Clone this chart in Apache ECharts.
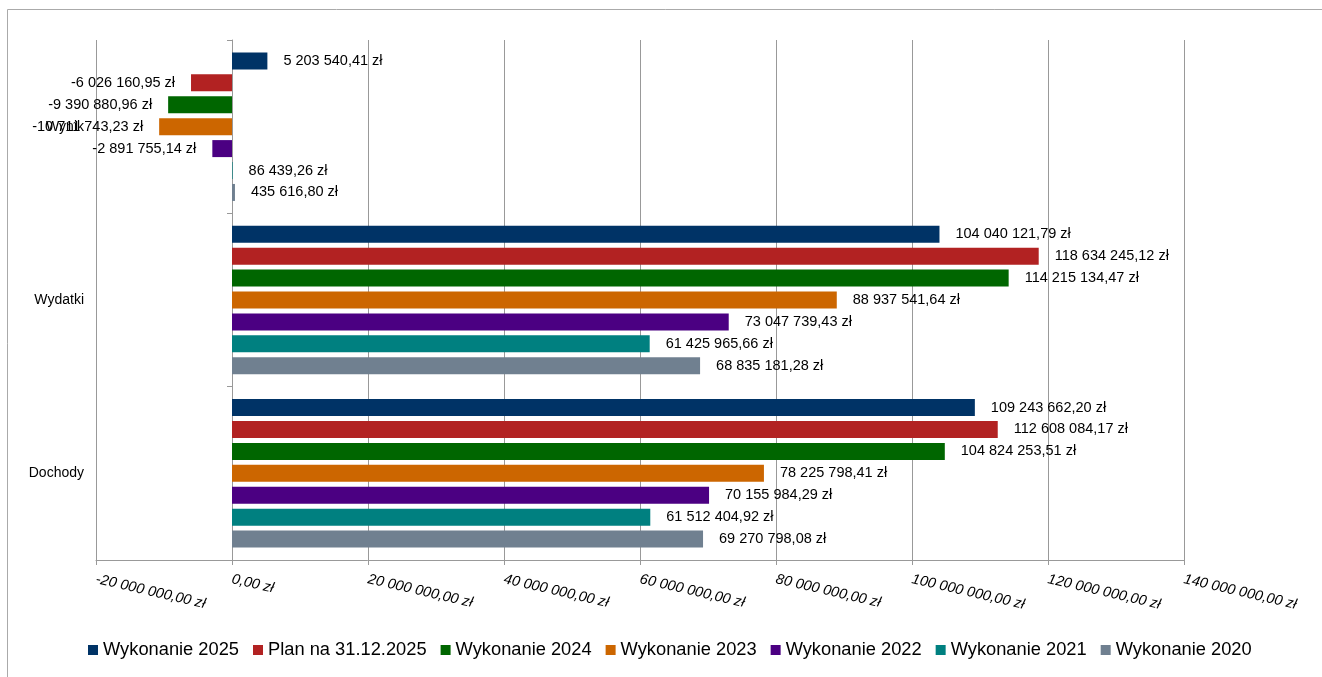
<!DOCTYPE html>
<html>
<head>
<meta charset="utf-8">
<script src="https://cdn.jsdelivr.net/npm/echarts@6/dist/echarts.min.js"></script>
<style>
html,body{margin:0;padding:0;background:#fff;}
#chart{width:1322px;height:677px;}
</style>
</head>
<body>
<div id="chart"></div>
<script>
const categories = ['Wynik', 'Wydatki', 'Dochody'];
const seriesNames = ['Wykonanie 2025', 'Plan na 31.12.2025', 'Wykonanie 2024', 'Wykonanie 2023', 'Wykonanie 2022', 'Wykonanie 2021', 'Wykonanie 2020'];
const wykonanie2025 = [5203540.41, 104040121.79, 109243662.20];
const plan2025 = [-6026160.95, 118634245.12, 112608084.17];
const wykonanie2024 = [-9390880.96, 114215134.47, 104824253.51];
const wykonanie2023 = [-10711743.23, 88937541.64, 78225798.41];
const wykonanie2022 = [-2891755.14, 73047739.43, 70155984.29];
const wykonanie2021 = [86439.26, 61425965.66, 61512404.92];
const wykonanie2020 = [435616.80, 68835181.28, 69270798.08];
const xTicks = { min: -20000000, max: 140000000, interval: 20000000 };

const seriesData = [wykonanie2025, plan2025, wykonanie2024, wykonanie2023, wykonanie2022, wykonanie2021, wykonanie2020];
const colors = ['#003366', '#B22222', '#006600', '#CC6600', '#4B0082', '#008080', '#708090'];
const FONT = "'Liberation Sans', Arial, sans-serif";

function formatPL(v) {
  const neg = v < 0;
  const s = Math.abs(v).toFixed(2);
  let [intPart, dec] = s.split('.');
  intPart = intPart.replace(/\B(?=(\d{3})+(?!\d))/g, ' ');
  return (neg ? '-' : '') + intPart + ',' + dec + ' zł';
}

const chart = echarts.init(document.getElementById('chart'), null, { renderer: 'canvas' });

const series = seriesNames.map((name, i) => ({
  name: name,
  type: 'bar',
  yAxisIndex: 0,
  barWidth: 17,
  barGap: '29%',
  itemStyle: { color: colors[i] },
  label: {
    show: true,
    distance: 16,
    color: '#000',
    fontSize: 14.5,
    fontFamily: FONT,
    formatter: p => formatPL(p.value)
  },
  data: seriesData[i].map(v => ({
    value: v,
    label: { position: v < 0 ? 'left' : 'right' }
  }))
}));

chart.setOption({
  animation: false,
  backgroundColor: '#fff',
  textStyle: { fontFamily: FONT },
  color: colors,
  graphic: [{
    type: 'rect',
    shape: { x: 7.5, y: 9.5, width: 1400, height: 700 },
    style: { fill: 'none', stroke: '#aaaaaa', lineWidth: 1 },
    silent: true,
    z: -10
  }],
  grid: { left: 96, right: 138, top: 40, bottom: 117, containLabel: false },
  legend: {
    data: seriesNames,
    left: 83,
    top: 636,
    icon: 'rect',
    itemWidth: 10,
    itemHeight: 10,
    itemGap: 14,
    textStyle: { fontSize: 18.3, color: '#000', fontFamily: FONT }
  },
  xAxis: {
    type: 'value',
    min: xTicks.min,
    max: xTicks.max,
    interval: xTicks.interval,
    axisLine: { show: true, onZero: false, lineStyle: { color: '#999', width: 1 } },
    axisTick: { show: true, length: 5, lineStyle: { color: '#999' } },
    splitLine: { show: true, lineStyle: { color: '#999', width: 1 } },
    axisLabel: {
      rotate: -13,
      margin: 19,
      fontSize: 14.5,
      fontStyle: 'italic',
      color: '#000',
      fontFamily: FONT,
      formatter: v => formatPL(v)
    }
  },
  yAxis: [{
    type: 'category',
    data: categories,
    inverse: true,
    position: 'left',
    axisLine: { show: false, onZero: false },
    axisTick: { show: false },
    splitLine: { show: false },
    axisLabel: { fontSize: 14, color: '#000', margin: 12, fontFamily: FONT }
  }, {
    type: 'category',
    data: categories,
    inverse: true,
    position: 'left',
    axisLine: { show: true, onZero: true, lineStyle: { color: '#999', width: 1 } },
    axisTick: { show: true, length: 5, inside: false, lineStyle: { color: '#999' } },
    axisLabel: { show: false },
    splitLine: { show: false }
  }],
  series: series
});
</script>
</body>
</html>
